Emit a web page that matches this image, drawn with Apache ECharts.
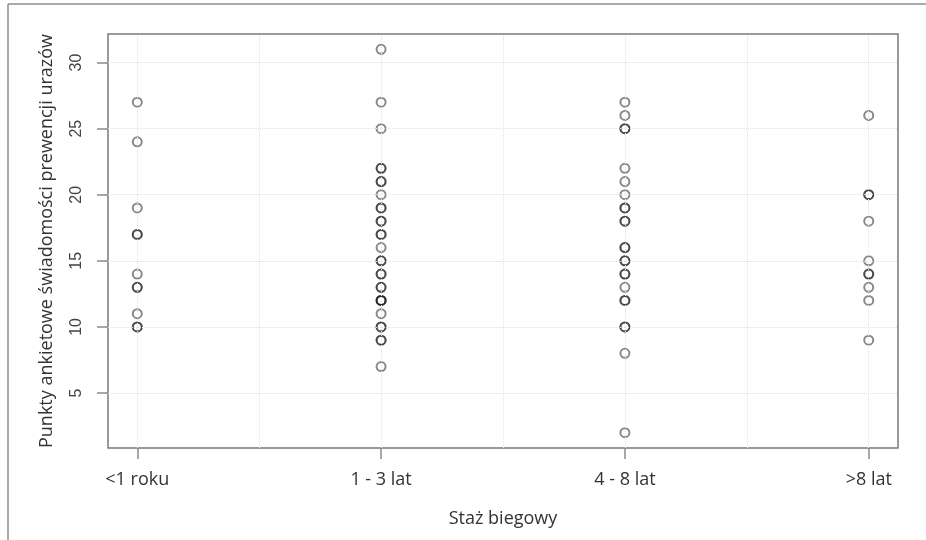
<!DOCTYPE html>
<html>
<head>
<meta charset="utf-8">
<script src="https://cdn.jsdelivr.net/npm/echarts@6/dist/echarts.min.js"></script>
<style>
html,body{margin:0;padding:0;background:#fff;}
#chart{width:926px;height:540px;}
</style>
</head>
<body>
<div id="chart"></div>
<script>
// Categories (x positions 1..4)
const categories = ['<1 roku', '1 - 3 lat', '4 - 8 lat', '>8 lat'];
// Values per category (repeated values = overplotted points)
const lessThan1 = [27, 24, 19, 17, 17, 14, 13, 13, 11, 10, 10];
const from1to3 = [31, 27, 25, 22, 22, 21, 21, 20, 19, 19, 18, 18, 17, 17, 16, 15, 15, 14, 14, 13, 13, 12, 12, 12, 11, 10, 10, 9, 9, 7];
const from4to8 = [27, 26, 25, 25, 22, 21, 20, 19, 19, 18, 18, 16, 16, 15, 15, 14, 14, 13, 12, 12, 10, 10, 8, 2];
const moreThan8 = [26, 20, 20, 18, 15, 14, 14, 13, 12, 9];
// Tick values
const yTicks = [5, 10, 15, 20, 25, 30];
const xTicks = [1, 2, 3, 4];
const xGrid = [1, 1.5, 2, 2.5, 3, 3.5, 4];

const groups = [lessThan1, from1to3, from4to8, moreThan8];
const points = [];
groups.forEach((g, i) => g.forEach(v => points.push([i + 1, v])));

const gridMarks = xGrid.map(v => ({ xAxis: v })).concat(yTicks.map(v => ({ yAxis: v })));

const chart = echarts.init(document.getElementById('chart'), null, { renderer: 'canvas' });
chart.setOption({
  animation: false,
  backgroundColor: '#ffffff',
  graphic: [
    { type: 'line', shape: { x1: 8, y1: 4, x2: 926, y2: 4 }, style: { stroke: '#8c8c8c', lineWidth: 1.5 }, silent: true },
    { type: 'line', shape: { x1: 8, y1: 4, x2: 8, y2: 540 }, style: { stroke: '#8c8c8c', lineWidth: 1.5 }, silent: true }
  ],
  grid: {
    left: 108, top: 34, width: 790, height: 414,
    show: true, borderColor: '#7a7a7a', borderWidth: 1.5, backgroundColor: 'transparent'
  },
  xAxis: {
    type: 'value', min: 0.88, max: 4.12,
    name: 'Staż biegowy', nameLocation: 'middle', nameGap: 62,
    nameTextStyle: { fontFamily: 'Open Sans', fontSize: 18, color: '#333' },
    axisLine: { show: false },
    splitLine: { show: false },
    axisTick: { show: true, customValues: xTicks, length: 11, lineStyle: { color: '#8a8a8a', width: 1.5 } },
    axisLabel: {
      customValues: xTicks, margin: 23,
      formatter: v => categories[Math.round(v) - 1] || '',
      fontFamily: 'Open Sans', fontSize: 18, color: '#333'
    }
  },
  yAxis: {
    type: 'value', min: 0.84, max: 32.16,
    name: 'Punkty ankietowe świadomości prewencji urazów', nameLocation: 'middle', nameGap: 52, nameRotate: 90,
    nameTextStyle: { fontFamily: 'Open Sans', fontSize: 18, color: '#333' },
    axisLine: { show: false },
    splitLine: { show: false },
    axisTick: { show: true, customValues: yTicks, length: 11, lineStyle: { color: '#8a8a8a', width: 1.5 } },
    axisLabel: {
      customValues: yTicks, margin: 23, rotate: 90,
      fontFamily: 'Liberation Sans', fontSize: 16, color: '#444'
    }
  },
  series: [{
    type: 'scatter',
    data: points,
    symbol: 'circle',
    symbolSize: 9,
    itemStyle: { color: 'rgba(0,0,0,0)', borderColor: 'rgba(0,0,0,0.58)', borderWidth: 2 },
    emphasis: { disabled: true },
    markLine: {
      silent: true, symbol: 'none', label: { show: false },
      lineStyle: { type: 'dotted', color: '#e2e2e2', width: 1 },
      data: gridMarks
    },
    z: 3
  }]
});
</script>
</body>
</html>
